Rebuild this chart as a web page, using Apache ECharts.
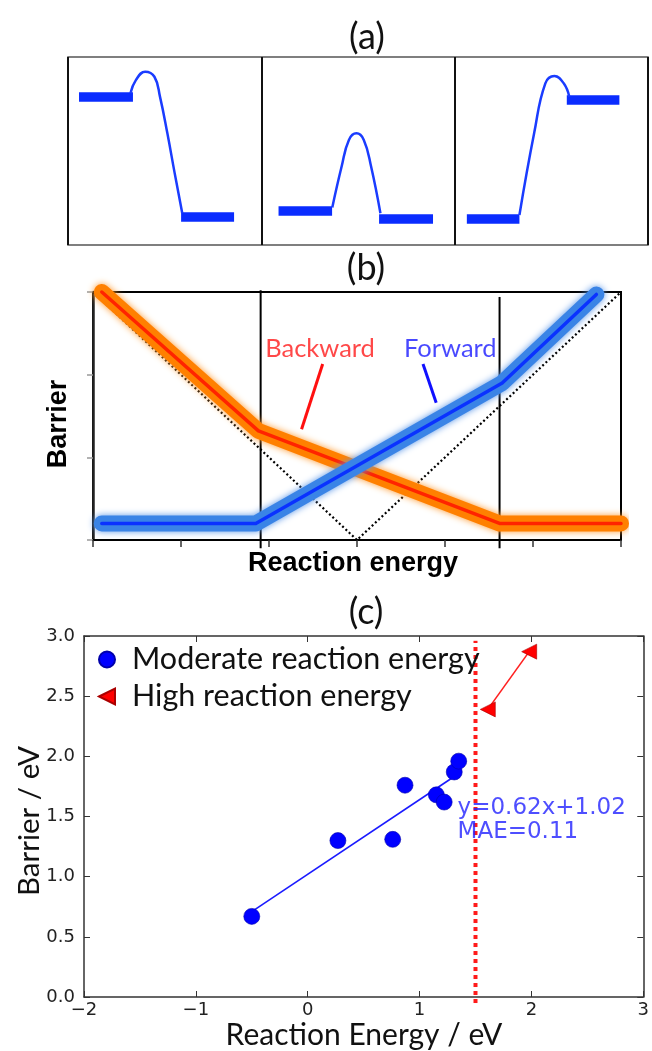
<!DOCTYPE html>
<html><head><meta charset="utf-8">
<script src="https://cdn.jsdelivr.net/npm/echarts@6/dist/echarts.min.js"></script>
<style>html,body{margin:0;padding:0;background:#fff}#c{width:652px;height:1051px}</style>
</head><body><div id="c"></div>
<script>
// ---------- Panel (a): schematic energy profiles ----------
const aPanelEdges = [0, 1, 2, 3];
const aPlateaus = [
  [[0.057, 0.787], [0.336, 0.787]],
  [[0.585, 0.149], [0.859, 0.149]],
  [[1.089, 0.181], [1.366, 0.181]],
  [[1.609, 0.138], [1.888, 0.138]],
  [[2.063, 0.138], [2.335, 0.138]],
  [[2.580, 0.771], [2.852, 0.771]]
];
const aCurve1 = [[0.323,0.807],[0.351,0.877],[0.399,0.922],[0.447,0.895],[0.476,0.788],[0.514,0.594],[0.552,0.381],[0.591,0.169]];
const aCurve2 = [[1.367,0.200],[1.415,0.416],[1.453,0.559],[1.492,0.594],[1.530,0.559],[1.568,0.416],[1.616,0.169]];
const aCurve3 = [[2.335,0.160],[2.411,0.594],[2.469,0.860],[2.516,0.899],[2.564,0.860],[2.593,0.789]];

// ---------- Panel (b): barrier vs reaction energy schematic ----------
const bBackward = [[-2.9, 3.0], [-1.12, 1.32], [1.62, 0.2], [3.0, 0.2]];
const bForward  = [[-2.9, 0.2], [-1.15, 0.2], [1.65, 1.9], [2.72, 2.97]];
const bDiagonal = [[-3, 3], [0, 0], [3, 3]];
const bDividerX = [-1.095, 1.62];
const bDividerTop = [3.02, 2.94];
const bDividerBottom = -0.1;
const bLabelBackward = [-0.42, 2.31];
const bLabelForward = [1.06, 2.31];
const bPointerBackward = [[-0.39, 2.13], [-0.63, 1.34]];
const bPointerForward = [[0.75, 2.13], [0.90, 1.66]];

// ---------- Panel (c): data ----------
const cModerateX = [-0.50, 0.27, 0.76, 0.87, 1.15, 1.22, 1.31, 1.35];
const cModerateY = [0.67, 1.30, 1.31, 1.76, 1.68, 1.62, 1.87, 1.96];
const cHighX = [1.61, 1.98];
const cHighY = [2.39, 2.87];
const cFitX = [-0.5, 1.3];
const cFitSlope = 0.62, cFitIntercept = 1.02;
const cThresholdX = 1.5;
const cThresholdY = [-0.05, 2.96];
const cAnnotationPos = [1.34, 1.47];

const chart = echarts.init(document.getElementById('c'), null, {renderer: 'canvas'});

const humanist = 'Lato, "Open Sans", sans-serif';
const dejavu = '"DejaVu Sans", sans-serif';
const boldSans = 'bold 27px "Liberation Sans", Arial, sans-serif';
const triPath = 'path://M0,5L10,0L10,10Z';

const series = [];
// Panel a
aPlateaus.forEach(p => series.push({type:'line', xAxisIndex:0, yAxisIndex:0, data:p, symbol:'none',
  lineStyle:{color:'#0a2cff', width:9.5, cap:'butt'}, silent:true}));
[aCurve1, aCurve2, aCurve3].forEach(c => series.push({type:'line', xAxisIndex:0, yAxisIndex:0, data:c, symbol:'none',
  smooth:0.45, lineStyle:{color:'#1a3cff', width:2.5}, silent:true}));

// Panel b
series.push({type:'line', xAxisIndex:1, yAxisIndex:1, data:bDiagonal, symbol:'none', clip:false,
  lineStyle:{color:'#000', width:2.2, type:[2,2.5]}, z:2});
bDividerX.forEach((x,i) => series.push({type:'line', xAxisIndex:1, yAxisIndex:1, clip:false, symbol:'none',
  data:[[x, bDividerBottom],[x, bDividerTop[i]]], lineStyle:{color:'#000', width:2}, z:3}));
series.push({type:'line', xAxisIndex:1, yAxisIndex:1, data:bBackward, symbol:'none', clip:false, z:4,
  lineStyle:{color:'#ff8000', width:16, cap:'round', join:'round', shadowBlur:7, shadowColor:'#ff9a30'}});
series.push({type:'line', xAxisIndex:1, yAxisIndex:1, data:bBackward, symbol:'none', clip:false, z:5,
  lineStyle:{color:'#ff2400', width:3.5, cap:'round', join:'round'}});
series.push({type:'line', xAxisIndex:1, yAxisIndex:1, data:bForward, symbol:'none', clip:false, z:6,
  lineStyle:{color:'#3a84e6', width:16, cap:'round', join:'round', shadowBlur:7, shadowColor:'#5a96e8'}});
series.push({type:'line', xAxisIndex:1, yAxisIndex:1, data:bForward, symbol:'none', clip:false, z:7,
  lineStyle:{color:'#0a32ff', width:3.5, cap:'round', join:'round'}});
series.push({type:'line', xAxisIndex:1, yAxisIndex:1, data:bPointerBackward, symbol:'none', z:8,
  lineStyle:{color:'#ff1010', width:3}});
series.push({type:'line', xAxisIndex:1, yAxisIndex:1, data:bPointerForward, symbol:'none', z:8,
  lineStyle:{color:'#1010ff', width:3}});
series.push({type:'scatter', xAxisIndex:1, yAxisIndex:1, symbolSize:0, z:9,
  data:[{value:bLabelBackward, label:{formatter:'Backward', color:'#ff1a1a'}},
        {value:bLabelForward, label:{formatter:'Forward', color:'#1a1aff'}}],
  label:{show:true, position:[0,0], align:'center', verticalAlign:'middle', fontFamily:humanist, fontSize:25.5}});

// Panel c
series.push({type:'line', xAxisIndex:2, yAxisIndex:2, clip:false, symbol:'none', z:3,
  data:[[cThresholdX, cThresholdY[0]],[cThresholdX, cThresholdY[1]]],
  lineStyle:{color:'#ff1a1a', width:4, type:[4,4]}});
series.push({type:'line', xAxisIndex:2, yAxisIndex:2, symbol:'none', z:4,
  data:cFitX.map(x => [x, cFitSlope*x + cFitIntercept]), lineStyle:{color:'#1a1aff', width:1.6}});
series.push({type:'line', xAxisIndex:2, yAxisIndex:2, symbol:'none', z:4,
  data:cHighX.map((x,i)=>[x, cHighY[i]]), lineStyle:{color:'#ff2020', width:1.6}});
series.push({name:'Moderate reaction energy', type:'scatter', xAxisIndex:2, yAxisIndex:2, z:5,
  symbol:'circle', symbolSize:16, itemStyle:{color:'#0000ff', opacity:1, borderColor:'#0000aa', borderWidth:0.6},
  data:cModerateX.map((x,i)=>[x, cModerateY[i]])});
series.push({name:'High reaction energy', type:'scatter', xAxisIndex:2, yAxisIndex:2, z:5,
  symbol:triPath, symbolSize:[15,15], itemStyle:{color:'#ff0000', opacity:1, borderColor:'#aa0000', borderWidth:0.6},
  data:cHighX.map((x,i)=>[x, cHighY[i]])});
series.push({type:'scatter', xAxisIndex:2, yAxisIndex:2, symbolSize:0, z:6,
  data:[cAnnotationPos],
  label:{show:true, position:[0,0], align:'left', verticalAlign:'middle', fontFamily:dejavu, fontSize:23,
    lineHeight:24, color:'#2222ff', formatter:'y=0.62x+1.02\nMAE=0.11'}});

const minus = v => String(v).replace('-', '\u2212');

const option = {
  animation:false,
  backgroundColor:'#fff',
  grid:[
    {left:68, top:57, width:580, height:188, show:true, borderColor:'#555', borderWidth:1.5},
    {left:93, top:292, width:528, height:248, show:true, borderColor:'#000', borderWidth:2},
    {left:84, top:636, width:563, height:361, show:false}
  ],
  xAxis:[
    {gridIndex:0, type:'value', min:aPanelEdges[0], max:aPanelEdges[3], interval:1,
     axisLine:{show:false}, axisTick:{show:false}, axisLabel:{show:false},
     splitLine:{show:true, lineStyle:{color:'#111', width:2}}},
    {gridIndex:1, type:'value', min:-3, max:3, interval:1,
     axisLine:{show:true, onZero:false, lineStyle:{color:'#000', width:2}},
     axisTick:{show:true, length:7, lineStyle:{color:'#333', width:1.5}}, axisLabel:{show:false}, splitLine:{show:false}},
    {gridIndex:2, type:'value', min:-2, max:3, interval:1, position:'bottom',
     axisLine:{show:true, onZero:false, lineStyle:{color:'#333', width:1.5}},
     axisTick:{show:true, inside:true, length:6, lineStyle:{color:'#333'}},
     axisLabel:{show:true, margin:4, fontFamily:dejavu, fontSize:18, color:'#222', formatter:minus},
     splitLine:{show:false}},
    {gridIndex:2, type:'value', min:-2, max:3, interval:1, position:'top',
     axisLine:{show:true, onZero:false, lineStyle:{color:'#333', width:1.5}},
     axisTick:{show:true, inside:true, length:6, lineStyle:{color:'#333'}},
     axisLabel:{show:false}, splitLine:{show:false}}
  ],
  yAxis:[
    {gridIndex:0, type:'value', min:0, max:1, show:false},
    {gridIndex:1, type:'value', min:0, max:3, interval:1,
     axisLine:{show:true, onZero:false, lineStyle:{color:'#222', width:2.5}},
     axisTick:{show:true, length:6, lineStyle:{color:'#999', width:1.5}}, axisLabel:{show:false}, splitLine:{show:false}},
    {gridIndex:2, type:'value', min:0, max:3, interval:0.5, position:'left',
     axisLine:{show:true, onZero:false, lineStyle:{color:'#333', width:1.5}},
     axisTick:{show:true, inside:true, length:6, lineStyle:{color:'#333'}},
     axisLabel:{show:true, margin:9, fontFamily:dejavu, fontSize:18, color:'#222', formatter:v=>v.toFixed(1)},
     splitLine:{show:false}},
    {gridIndex:2, type:'value', min:0, max:3, interval:0.5, position:'right',
     axisLine:{show:true, onZero:false, lineStyle:{color:'#333', width:1.5}},
     axisTick:{show:true, inside:true, length:6, lineStyle:{color:'#333'}},
     axisLabel:{show:false}, splitLine:{show:false}}
  ],
  legend:{
    orient:'vertical', left:93, top:639, padding:5, itemWidth:16, itemHeight:16, itemGap:6,
    textStyle:{fontFamily:humanist, fontSize:30.5, color:'#111', lineHeight:31, padding:[0,0,0,12]},
    data:[{name:'Moderate reaction energy', icon:'circle'}, {name:'High reaction energy', icon:triPath}]
  },
  graphic:[
    {type:'text', x:367, y:37, style:{text:'(a)', font:'36px '+humanist, fill:'#111', textAlign:'center', textVerticalAlign:'middle'}},
    {type:'text', x:366, y:268, style:{text:'(b)', font:'36px '+humanist, fill:'#111', textAlign:'center', textVerticalAlign:'middle'}},
    {type:'text', x:366, y:612, style:{text:'(c)', font:'36px '+humanist, fill:'#111', textAlign:'center', textVerticalAlign:'middle'}},
    {type:'text', x:59, y:424, rotation:Math.PI/2, style:{text:'Barrier', font:boldSans, fill:'#000', textAlign:'center', textVerticalAlign:'middle'}},
    {type:'text', x:353, y:564, style:{text:'Reaction energy', font:boldSans, fill:'#000', textAlign:'center', textVerticalAlign:'middle'}},
    {type:'text', x:29, y:821, rotation:Math.PI/2, style:{text:'Barrier / eV', font:'29.5px '+humanist, fill:'#111', textAlign:'center', textVerticalAlign:'middle'}},
    {type:'text', x:364, y:1035, style:{text:'Reaction Energy / eV', font:'30px '+humanist, fill:'#111', textAlign:'center', textVerticalAlign:'middle'}}
  ],
  series:series
};
chart.setOption(option);
</script></body></html>
